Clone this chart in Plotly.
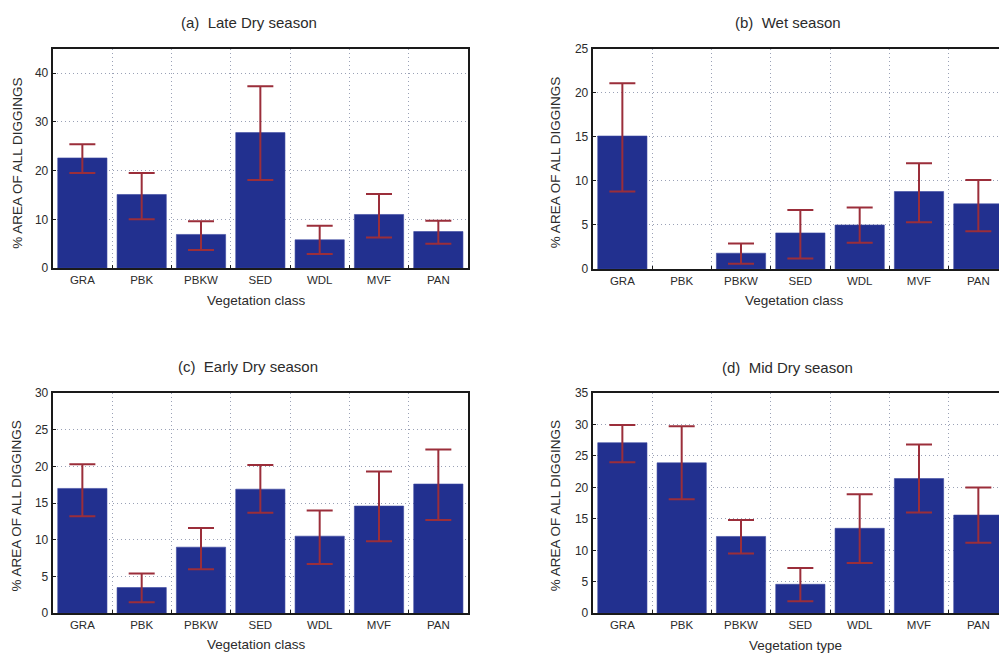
import plotly.graph_objects as go

# ---------------- data ----------------
categories = ["GRA", "PBK", "PBKW", "SED", "WDL", "MVF", "PAN"]

late_dry_mean = [22.6, 15.1, 6.9, 27.8, 5.8, 11.0, 7.5]
late_dry_upper = [25.4, 19.5, 9.6, 37.3, 8.7, 15.2, 9.7]
late_dry_lower = [19.5, 10.0, 3.7, 18.1, 2.9, 6.3, 5.0]

wet_mean = [15.1, None, 1.8, 4.1, 5.0, 8.8, 7.4]
wet_upper = [21.1, None, 2.9, 6.7, 7.0, 12.0, 10.1]
wet_lower = [8.8, None, 0.6, 1.2, 3.0, 5.3, 4.3]

early_dry_mean = [17.0, 3.5, 9.0, 16.9, 10.5, 14.6, 17.6]
early_dry_upper = [20.3, 5.4, 11.6, 20.2, 14.0, 19.3, 22.3]
early_dry_lower = [13.2, 1.5, 6.0, 13.7, 6.7, 9.8, 12.7]

mid_dry_mean = [27.1, 23.9, 12.2, 4.6, 13.5, 21.4, 15.6]
mid_dry_upper = [29.9, 29.7, 14.8, 7.2, 18.9, 26.8, 20.0]
mid_dry_lower = [24.0, 18.1, 9.5, 1.9, 8.0, 16.0, 11.2]

panel_titles = ["(a)\u00a0\u00a0Late Dry season", "(b)\u00a0\u00a0Wet season",
                "(c)\u00a0\u00a0Early Dry season", "(d)\u00a0\u00a0Mid Dry season"]
x_titles = ["Vegetation class", "Vegetation class", "Vegetation class", "Vegetation type"]
y_title = "% AREA OF ALL DIGGINGS"
y_ranges = [45, 25, 30, 35]
y_dticks = [10, 5, 5, 5]

# ---------------- style ----------------
W, H = 1010, 664
BAR = "#22308f"
ERR = "#9b2e3a"
GRID = "#9aa1b6"
TXT = "#2b2b2b"
FONT = "Liberation Sans, Arial, sans-serif"

# pixel boxes of the four plot areas: (left, right, top, bottom)
boxes = [(52.7, 468.0, 42.7, 266.7),
         (592.7, 1008.0, 42.7, 267.7),
         (52.7, 468.0, 394.3, 619.3),
         (592.7, 1008.0, 394.3, 619.3)]
title_pos = [(249, 15.7), (788, 15.7), (247.5, 367.5), (787, 368.3)]
xtitle_pos = [(256.5, 300), (794, 300), (256, 651.7), (795.5, 652.7)]
ytitle_pos = [(16.7, 159.5), (555, 159.5), (16.7, 509.5), (555, 510)]

series = [(late_dry_mean, late_dry_upper, late_dry_lower),
          (wet_mean, wet_upper, wet_lower),
          (early_dry_mean, early_dry_upper, early_dry_lower),
          (mid_dry_mean, mid_dry_upper, mid_dry_lower)]

fig = go.Figure()
annotations = []
layout_axes = {}

for i, (mean, up, lo) in enumerate(series):
    k = "" if i == 0 else str(i + 1)
    plus = [None if m is None else u - m for m, u in zip(mean, up)]
    minus = [None if m is None else m - l for m, l in zip(mean, lo)]
    fig.add_trace(go.Bar(
        x=categories, y=mean,
        xaxis="x" + k, yaxis="y" + k,
        marker=dict(color=BAR, line=dict(color="#3a47a0", width=0.6)),
        width=0.83,
        error_y=dict(type="data", symmetric=False, array=plus, arrayminus=minus,
                     color=ERR, thickness=2, width=13),
        showlegend=False,
    ))
    l, r, t, b = boxes[i]
    layout_axes["xaxis" + k] = dict(
        domain=[l / W, r / W], anchor="y" + k,
        type="category", categoryorder="array", categoryarray=categories,
        range=[-0.5, 6.5], tickson="boundaries",
        showgrid=True, gridcolor=GRID, griddash="1.5px,2.5px", gridwidth=1,
        showline=True, linecolor="#1a1a1a", linewidth=2, mirror=True,
        ticks="inside", ticklen=3, tickcolor="#1a1a1a",
        tickfont=dict(family=FONT, size=11.5, color=TXT),
        ticklabelstandoff=0,
        zeroline=False,
    )
    layout_axes["yaxis" + k] = dict(
        domain=[1 - b / H, 1 - t / H], anchor="x" + k,
        range=[0, y_ranges[i]], dtick=y_dticks[i], tick0=0,
        showgrid=True, gridcolor=GRID, griddash="1.5px,2.5px", gridwidth=1,
        showline=True, linecolor="#1a1a1a", linewidth=2, mirror=True,
        ticks="inside", ticklen=3, tickcolor="#1a1a1a",
        tickfont=dict(family=FONT, size=12, color=TXT),
        zeroline=False,
    )
    tx, ty = title_pos[i]
    annotations.append(dict(text=panel_titles[i], x=tx / W, y=1 - ty / H,
                            xref="paper", yref="paper", showarrow=False,
                            xanchor="center", yanchor="middle",
                            font=dict(family=FONT, size=15, color=TXT)))
    ax_, ay_ = xtitle_pos[i]
    annotations.append(dict(text=x_titles[i], x=ax_ / W, y=1 - ay_ / H,
                            xref="paper", yref="paper", showarrow=False,
                            xanchor="center", yanchor="middle",
                            font=dict(family=FONT, size=13.5, color=TXT)))
    yx, yy = ytitle_pos[i]
    annotations.append(dict(text=y_title, x=yx / W, y=1 - yy / H,
                            xref="paper", yref="paper", showarrow=False,
                            textangle=-90, xanchor="center", yanchor="middle",
                            font=dict(family=FONT, size=13.5, color=TXT)))

fig.update_layout(
    width=W, height=H,
    margin=dict(l=0, r=0, t=0, b=0),
    paper_bgcolor="white", plot_bgcolor="white",
    annotations=annotations,
    **layout_axes,
)

fig.write_html("out.html",
               config={"displayModeBar": False},
               post_script="document.body.style.margin='0';"
                           "document.body.style.overflow='hidden';"
                           "document.documentElement.style.overflow='hidden';")
